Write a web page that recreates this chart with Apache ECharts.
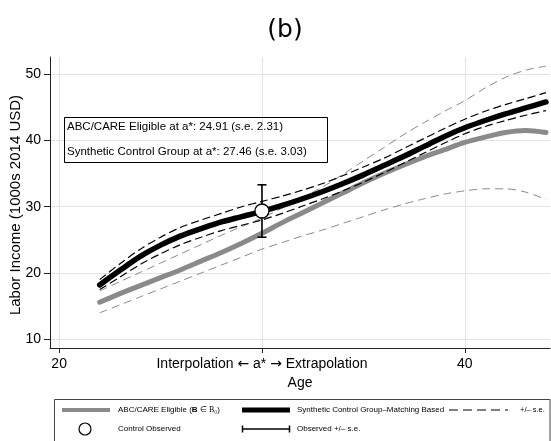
<!DOCTYPE html>
<html>
<head>
<meta charset="utf-8">
<script src="https://cdn.jsdelivr.net/npm/echarts@6/dist/echarts.min.js"></script>
<style>
  html, body { margin: 0; padding: 0; background: #fff; }
  #main { width: 551px; height: 441px; }
</style>
</head>
<body>
<div id="main"></div>
<script>
// ages on the x axis
const ages = [22, 23, 24, 25, 26, 27, 28, 29, 30, 31, 32, 33, 34, 35, 36, 37, 38, 39, 40, 41, 42, 43, 44]

// ABC/CARE eligible (grey) and +/- s.e.
const abc   = [15.6, 16.9, 18.1, 19.3, 20.5, 21.8, 23.1, 24.5, 26.0, 27.6, 29.1, 30.6, 32.1, 33.6, 35.0, 36.3, 37.5, 38.6, 39.7, 40.5, 41.2, 41.5, 41.2]
const abcHi = [17.3, 18.7, 20.1, 21.5, 22.9, 24.3, 25.7, 27.0, 28.3, 29.8, 31.4, 33.0, 34.9, 36.9, 38.9, 40.9, 42.7, 44.4, 46.0, 47.9, 49.5, 50.6, 51.2]
const abcLo = [14.0, 15.2, 16.4, 17.6, 18.8, 20.0, 21.2, 22.4, 23.6, 24.6, 25.6, 26.5, 27.5, 28.5, 29.5, 30.4, 31.2, 31.9, 32.4, 32.7, 32.7, 32.2, 31.1]

// synthetic control group (black) and +/- s.e.
const synth   = [18.2, 20.4, 22.5, 24.2, 25.6, 26.7, 27.7, 28.5, 29.3, 30.2, 31.2, 32.3, 33.5, 34.8, 36.2, 37.6, 39.1, 40.6, 41.9, 43.0, 44.0, 44.9, 45.8]
const synthHi = [19.0, 21.4, 23.6, 25.4, 26.9, 28.0, 29.0, 30.0, 30.8, 31.6, 32.5, 33.5, 34.7, 36.0, 37.3, 38.8, 40.3, 41.8, 43.2, 44.4, 45.4, 46.3, 47.2]
const synthLo = [17.5, 19.4, 21.3, 22.9, 24.3, 25.4, 26.4, 27.2, 28.0, 29.0, 30.1, 31.2, 32.4, 33.7, 35.1, 36.6, 38.1, 39.6, 41.0, 42.1, 43.0, 43.8, 44.5]

// control observed at a*
const obsAge = 30
const obsValue = 29.35
const obsLo = 25.4
const obsHi = 33.3

// ticks
const xTicks = [20, 30, 40]
const xTickLabels = { 20: '20', 30: 'Interpolation {a|←} a* {a|→} Extrapolation', 40: '40' }
const yTicks = [10, 20, 30, 40, 50]

const boxLines = [
  'ABC/CARE Eligible at a*: 24.91 (s.e. 2.31)',
  'Synthetic Control Group at a*: 27.46 (s.e. 3.03)'
]

const pairs = arr => ages.map((a, i) => [a, arr[i]])

const font = '"Liberation Sans", Arial, sans-serif'
const grey = '#8a8a8a'

let myChart = echarts.init(document.getElementById('main'))

// small helper for the legend texts
function legendText(x, y, text, size) {
  return {
    type: 'text', x: x, y: y, z: 11,
    style: { text: text, font: (size || 8) + 'px ' + font, fill: '#000', verticalAlign: 'middle' }
  }
}

myChart.setOption({
  animation: false,
  backgroundColor: '#fff',
  textStyle: { fontFamily: font },
  title: {
    text: '(b)',
    left: 280,
    top: 13,
    textAlign: 'center',
    textStyle: { fontFamily: '"DejaVu Sans", sans-serif', fontSize: 25, fontWeight: 'normal', color: '#000' }
  },
  grid: { left: 50, top: 57, width: 500, height: 291, containLabel: false, outerBoundsMode: 'none' },
  xAxis: {
    type: 'value',
    min: 19.55,
    max: 44.2,
    name: 'Age',
    nameLocation: 'middle',
    nameGap: 25,
    nameTextStyle: { fontSize: 14, color: '#000', fontFamily: font },
    axisLine: { show: true, onZero: false, lineStyle: { color: '#222', width: 1 } },
    axisTick: { show: true, length: 5, customValues: xTicks, lineStyle: { color: '#222' } },
    axisLabel: {
      customValues: xTicks,
      margin: 9,
      fontSize: 14,
      color: '#000',
      fontFamily: font,
      formatter: v => xTickLabels[v] || '',
      rich: { a: { fontFamily: '"DejaVu Sans", sans-serif', fontSize: 14, color: '#000' } }
    },
    splitLine: { show: true, lineStyle: { color: '#e3e3e3', width: 1 } }
  },
  yAxis: {
    type: 'value',
    min: 8.69,
    max: 52.58,
    axisLine: { show: true, onZero: false, lineStyle: { color: '#222', width: 1 } },
    axisTick: { show: true, length: 6, customValues: yTicks, lineStyle: { color: '#222' } },
    axisLabel: { customValues: yTicks, margin: 9, fontSize: 14, color: '#000', fontFamily: font },
    splitLine: { show: true, lineStyle: { color: '#e3e3e3', width: 1 } }
  },
  series: [
    {
      type: 'line', data: pairs(abcHi), smooth: 0.3, showSymbol: false, z: 2,
      lineStyle: { color: grey, width: 1, type: [8, 5] }
    },
    {
      type: 'line', data: pairs(abcLo), smooth: 0.3, showSymbol: false, z: 2,
      lineStyle: { color: grey, width: 1, type: [8, 5] }
    },
    {
      type: 'line', data: pairs(abc), smooth: 0.3, showSymbol: false, z: 3,
      lineStyle: { color: grey, width: 5, cap: 'round' }
    },
    {
      type: 'line', data: pairs(synthHi), smooth: 0.3, showSymbol: false, z: 4,
      lineStyle: { color: '#000', width: 1.2, type: [8, 4] }
    },
    {
      type: 'line', data: pairs(synthLo), smooth: 0.3, showSymbol: false, z: 4,
      lineStyle: { color: '#000', width: 1.2, type: [8, 4] }
    },
    {
      type: 'line', data: pairs(synth), smooth: 0.3, showSymbol: false, z: 5,
      lineStyle: { color: '#000', width: 5.5, cap: 'round' }
    },
    {
      // observed +/- s.e. error bar
      type: 'line', data: [[obsAge, obsLo], [obsAge, obsHi]], z: 6,
      symbol: 'rect', symbolSize: [9, 1.6], showSymbol: true,
      itemStyle: { color: '#000' },
      lineStyle: { color: '#000', width: 1.6 }
    },
    {
      type: 'scatter', data: [[obsAge, obsValue]], z: 7,
      symbol: 'circle', symbolSize: 14,
      itemStyle: { color: '#fff', opacity: 1, borderColor: '#000', borderWidth: 1.3 }
    }
  ],
  graphic: [
    // y axis title
    {
      type: 'text', x: 15.5, y: 205, rotation: Math.PI / 2, z: 10,
      style: {
        text: 'Labor Income (1000s 2014 USD)', font: '15px ' + font, fill: '#000',
        align: 'center', verticalAlign: 'middle'
      }
    },
    // text box
    {
      type: 'rect', left: 62, top: 115, z: 10,
      shape: { width: 263, height: 45 },
      style: { fill: 'none', stroke: '#000', lineWidth: 1 }
    },
    {
      type: 'text', x: 67, y: 127, z: 10,
      style: { text: boxLines[0], font: '11.5px ' + font, fill: '#000', verticalAlign: 'middle' }
    },
    {
      type: 'text', x: 67, y: 152, z: 10,
      style: { text: boxLines[1], font: '11.5px ' + font, fill: '#000', verticalAlign: 'middle' }
    },
    // legend box
    {
      type: 'rect', left: 54, top: 399, z: 10,
      shape: { width: 495.5, height: 50 },
      style: { fill: '#fff', stroke: '#444', lineWidth: 1 }
    },
    {
      type: 'rect', left: 62, top: 408, z: 11,
      shape: { width: 48, height: 4 },
      style: { fill: grey }
    },
    {
      type: 'text', x: 118, y: 410, z: 11,
      style: {
        text: 'ABC/CARE Eligible ({b|B} ∈ {s|B₀})',
        font: '8px ' + font, fill: '#000', verticalAlign: 'middle',
        rich: {
          b: { fontWeight: 'bold', fontSize: 8, fontFamily: font },
          s: { fontFamily: '"Liberation Serif", serif', fontSize: 8 }
        }
      }
    },
    {
      type: 'rect', left: 242, top: 407.5, z: 11,
      shape: { width: 48, height: 5 },
      style: { fill: '#000' }
    },
    legendText(297, 410, 'Synthetic Control Group–Matching Based'),
    {
      type: 'line', z: 11,
      shape: { x1: 449, y1: 410, x2: 508, y2: 410 },
      style: { stroke: '#000', lineWidth: 1.2, lineDash: [9, 5] }
    },
    legendText(520, 410, '+/– s.e.', 7.5),
    {
      type: 'circle', z: 11,
      shape: { cx: 85, cy: 429, r: 6 },
      style: { fill: '#fff', stroke: '#000', lineWidth: 1.2 }
    },
    legendText(118, 429, 'Control Observed'),
    {
      type: 'line', z: 11,
      shape: { x1: 242, y1: 429, x2: 290, y2: 429 },
      style: { stroke: '#000', lineWidth: 1.5 }
    },
    {
      type: 'line', z: 11,
      shape: { x1: 242.5, y1: 425.5, x2: 242.5, y2: 432.5 },
      style: { stroke: '#000', lineWidth: 1.5 }
    },
    {
      type: 'line', z: 11,
      shape: { x1: 289.5, y1: 425.5, x2: 289.5, y2: 432.5 },
      style: { stroke: '#000', lineWidth: 1.5 }
    },
    legendText(297, 429, 'Observed +/– s.e.')
  ]
})
</script>
</body>
</html>
